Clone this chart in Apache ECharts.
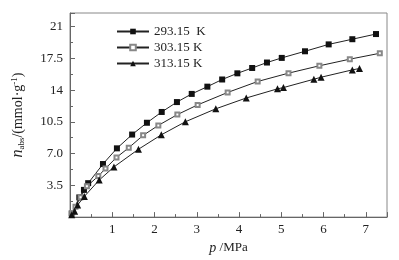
<!DOCTYPE html>
<html>
<head>
<meta charset="utf-8">
<script src="https://cdn.jsdelivr.net/npm/echarts@6/dist/echarts.min.js"></script>
<style>
  html, body { margin: 0; padding: 0; background: #fff; }
  #main { width: 399px; height: 260px; }
</style>
</head>
<body>
<div id="main"></div>
<script>
// 吸附等温线数据 (p / MPa, n_abs / mmol·g-1)
var seriesNames = ['293.15  K', '303.15 K', '313.15 K'];
var p293 = [0.04, 0.22, 0.33, 0.43, 0.78, 1.11, 1.47, 1.82, 2.17, 2.53, 2.88, 3.25, 3.60, 3.96, 4.31, 4.66, 5.01, 5.56, 6.12, 6.68, 7.24];
var n293 = [0.40, 2.17, 3.00, 3.74, 5.85, 7.58, 9.10, 10.40, 11.59, 12.68, 13.58, 14.38, 15.17, 15.85, 16.44, 17.04, 17.55, 18.28, 19.04, 19.61, 20.18];
var p303 = [0.05, 0.13, 0.25, 0.40, 0.67, 0.84, 1.10, 1.39, 1.73, 2.09, 2.54, 3.02, 3.73, 4.44, 5.17, 5.90, 6.62, 7.33];
var n303 = [0.45, 1.15, 2.20, 3.40, 4.52, 5.36, 6.58, 7.64, 9.01, 10.11, 11.30, 12.37, 13.74, 14.95, 15.87, 16.68, 17.41, 18.06];
var p313 = [0.04, 0.11, 0.18, 0.34, 0.69, 1.04, 1.62, 2.16, 2.73, 3.45, 4.17, 4.91, 5.05, 5.77, 5.94, 6.68, 6.85];
var n313 = [0.25, 0.65, 1.33, 2.28, 4.08, 5.53, 7.48, 9.07, 10.51, 11.94, 13.13, 14.14, 14.28, 15.20, 15.42, 16.23, 16.38];
var xTickLabels = ['1', '2', '3', '4', '5', '6', '7'];
var yTickLabels = ['3.5', '7.0', '10.5', '14', '17.5', '21'];

function pairs(xs, ys) {
    return xs.map(function (x, i) { return [x, ys[i]]; });
}

var font = 'Liberation Serif';
var axisColor = '#666';

var myChart = echarts.init(document.getElementById('main'));
myChart.setOption({
    backgroundColor: '#fff',
    animation: false,
    textStyle: { fontFamily: font },
    grid: {
        left: 70, right: 12, top: 13, bottom: 40,
        show: true, borderColor: '#888', borderWidth: 1
    },
    legend: {
        orient: 'vertical',
        left: 111, top: 20,
        itemWidth: 32, itemHeight: 7, itemGap: 3,
        textStyle: { fontFamily: font, fontSize: 13, color: '#222' },
        data: seriesNames
    },
    xAxis: {
        type: 'value',
        min: 0, max: 7.5, interval: 1,
        name: '{i|p} /MPa',
        nameLocation: 'middle', nameGap: 23,
        nameTextStyle: {
            fontFamily: font, fontSize: 13, color: '#222',
            rich: { i: { fontStyle: 'italic', fontFamily: font, fontSize: 14, color: '#222' } }
        },
        axisLine: { lineStyle: { color: axisColor } },
        axisTick: { inside: true, length: 5, lineStyle: { color: axisColor } },
        minorTick: { show: true, splitNumber: 2, length: 3, lineStyle: { color: axisColor } },
        splitLine: { show: false },
        axisLabel: {
            fontFamily: font, fontSize: 13, color: '#222', margin: 6,
            formatter: function (v) {
                var s = String(v);
                return xTickLabels.indexOf(s) >= 0 ? s : '';
            }
        }
    },
    yAxis: {
        type: 'value',
        min: 0, max: 22.5, interval: 3.5,
        name: '{i|n}{sub|abs}/(mmol·g{sup|-1})',
        nameLocation: 'middle', nameGap: 44, nameRotate: 90,
        nameTextStyle: {
            fontFamily: font, fontSize: 14, color: '#222',
            rich: {
                i: { fontStyle: 'italic', fontFamily: font, fontSize: 16, color: '#222' },
                sub: { fontFamily: font, fontSize: 9, color: '#222', verticalAlign: 'bottom', padding: [7, 0, 0, 0] },
                sup: { fontFamily: font, fontSize: 9, color: '#222', verticalAlign: 'top', padding: [0, 0, 7, 0] }
            }
        },
        axisLine: { show: true, lineStyle: { color: axisColor } },
        axisTick: { show: true, inside: true, length: 5, lineStyle: { color: axisColor } },
        minorTick: { show: true, splitNumber: 2, length: 3, lineStyle: { color: axisColor } },
        splitLine: { show: false },
        axisLabel: {
            fontFamily: font, fontSize: 13, color: '#222', margin: 7,
            formatter: function (v) {
                var i = [3.5, 7, 10.5, 14, 17.5, 21].indexOf(Math.round(v * 100) / 100);
                return i >= 0 ? yTickLabels[i] : '';
            }
        }
    },
    series: [{
        name: seriesNames[0],
        type: 'line',
        data: pairs(p293, n293),
        showAllSymbol: true,
        symbol: 'rect', symbolSize: 6,
        itemStyle: { color: '#111' },
        lineStyle: { color: '#222', width: 1 }
    }, {
        name: seriesNames[1],
        type: 'line',
        data: pairs(p303, n303),
        showAllSymbol: true,
        symbol: 'emptyRect', symbolSize: 4,
        itemStyle: { color: '#888', borderWidth: 1 },
        lineStyle: { color: '#222', width: 1 }
    }, {
        name: seriesNames[2],
        type: 'line',
        data: pairs(p313, n313),
        showAllSymbol: true,
        symbol: 'triangle', symbolSize: 7,
        itemStyle: { color: '#111' },
        lineStyle: { color: '#222', width: 1 }
    }]
});
</script>
</body>
</html>
